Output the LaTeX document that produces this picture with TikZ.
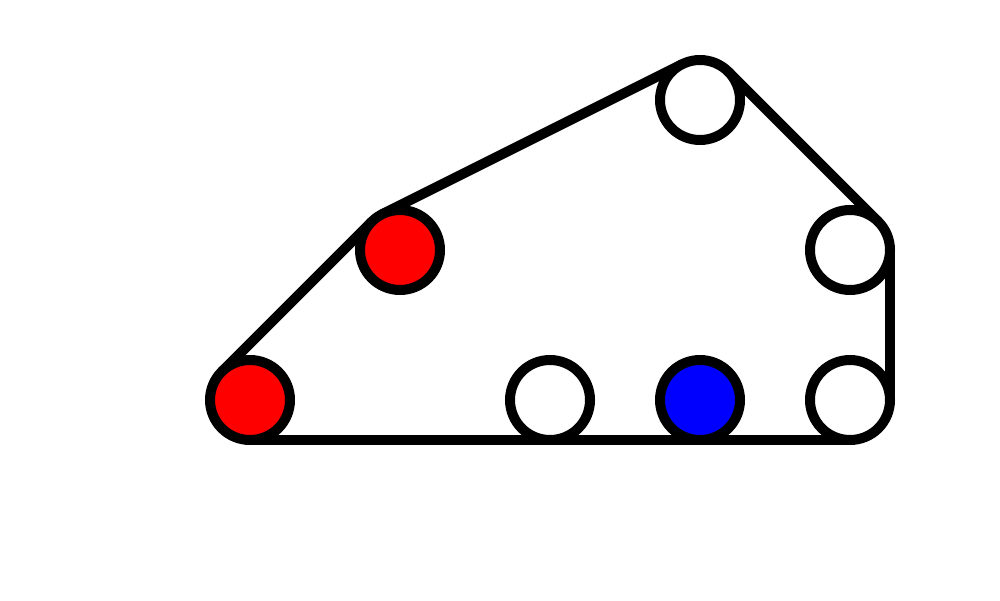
\documentclass[tikz,border=0pt]{standalone}
\usetikzlibrary{calc}
\tikzset{ball/.style={circle,draw,line width=0.2cm,inner sep=0pt,minimum size=1.6cm,fill=white}}

\begin{document}
\begin{tikzpicture}
\useasboundingbox (0,0) rectangle (20,12);
\coordinate (p1) at (5,4);
\coordinate (p2) at (17,4);
\coordinate (p3) at (17,7);
\coordinate (p4) at (14,10);
\coordinate (p5) at (8,7);
% hull of the balls
\foreach \a/\b in {p1/p2,p2/p3,p3/p4,p4/p5,p5/p1}
\draw[line width=0.2cm] ($(\a)!0.8cm!-90:(\b)$) -- ($(\b)!0.8cm!90:(\a)$);
\node[ball,fill=red] (r1) at (p1) {};
\node[ball,fill=red] (r2) at (p5) {};
\node[ball] (w1) at (p4) {};
\node[ball] (w2) at (p3) {};
\node[ball] (w3) at (p2) {};
\node[ball,fill=blue] (b1) at (14,4) {};
\node[ball] (w4) at (11,4) {};
\end{tikzpicture}
\end{document}
